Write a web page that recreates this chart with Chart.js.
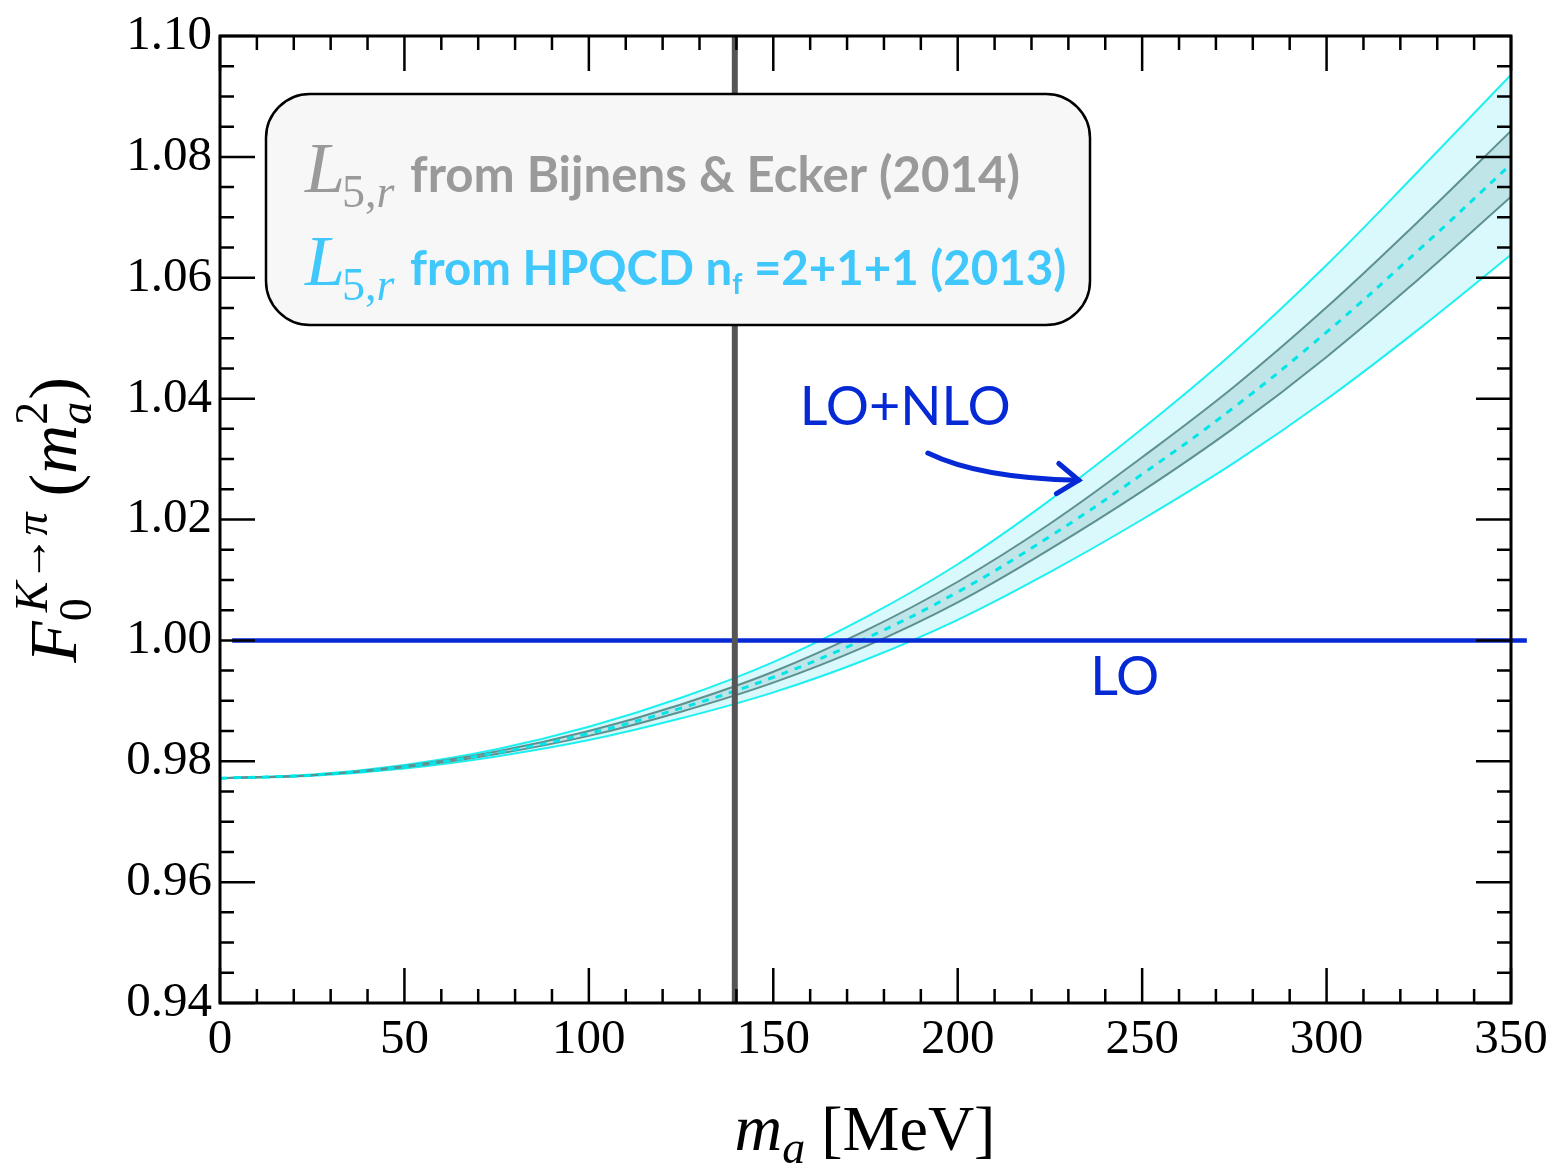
<!DOCTYPE html>
<html>
<head>
<meta charset="utf-8">
<script src="https://cdn.jsdelivr.net/npm/chart.js@4.4.1/dist/chart.umd.min.js"></script>
<style>
  html, body { margin: 0; padding: 0; background: #fff; }
</style>
</head>
<body>
<canvas id="formFactorChart" width="1552" height="1166"></canvas>
<script>
// axion mass grid [MeV]
const massMeV = [0, 25, 50, 75, 100, 125, 150, 175, 200, 225, 250, 275, 300, 325, 350];

// F0 (K -> pi) at LO+NLO, central curve
const centralValues = [0.9772, 0.9777, 0.9791, 0.9814, 0.9846, 0.9888, 0.9939, 1.0003, 1.0080, 1.0172, 1.0275, 1.0386, 1.0510, 1.0646, 1.0788];
// L5 from Bijnens & Ecker (2014): narrow band
const innerUpper = [0.9772, 0.9777, 0.9792, 0.9816, 0.9850, 0.9894, 0.9948, 1.0016, 1.0097, 1.0193, 1.0303, 1.0420, 1.0551, 1.0694, 1.0843];
const innerLower = [0.9772, 0.9777, 0.9790, 0.9812, 0.9842, 0.9882, 0.9930, 0.9990, 1.0063, 1.0151, 1.0247, 1.0352, 1.0469, 1.0598, 1.0734];
// L5 from HPQCD nf=2+1+1 (2013): wide band
const outerUpper = [0.9772, 0.9778, 0.9794, 0.9820, 0.9857, 0.9905, 0.9964, 1.0038, 1.0126, 1.0232, 1.0350, 1.0478, 1.0621, 1.0777, 1.0936];
const outerLower = [0.9772, 0.9776, 0.9788, 0.9808, 0.9835, 0.9871, 0.9914, 0.9968, 1.0034, 1.0113, 1.0200, 1.0294, 1.0399, 1.0515, 1.0638];

// LO value and its drawn extent, pion mass marker
const loValue = 1.0;
const loRange = [3.3, 354.3];
const pionMass = 139.57;

// axis ticks
const xTickValues = [0, 50, 100, 150, 200, 250, 300, 350];
const yTickValues = [0.94, 0.96, 0.98, 1.00, 1.02, 1.04, 1.06, 1.08, 1.10];

const toPoints = (xs, ys) => xs.map((x, i) => ({ x: x, y: ys[i] }));

const SERIF = '"Liberation Serif", "DejaVu Serif", serif';
const SANS = 'Lato, "Open Sans", sans-serif';
const BLUE = '#0629d6';
const GRAY_TXT = '#9a9a9a';
const SKY_TXT = '#40c8fc';

// draws a run of text pieces (with sub/superscripts) from left to right
function drawRich(ctx, parts, x0, y0, dryRun) {
  let x = x0;
  for (const p of parts) {
    if (p.gap) { x += p.gap; continue; }
    if (p.stack) {
      let w = 0;
      for (const q of p.stack) {
        ctx.font = q.font;
        if (!dryRun) ctx.fillText(q.text, x + (q.dx || 0), y0 + (q.dy || 0));
        w = Math.max(w, ctx.measureText(q.text).width + (q.dx || 0));
      }
      x += w;
    } else {
      ctx.font = p.font;
      if (!dryRun) ctx.fillText(p.text, x, y0 + (p.dy || 0));
      x += ctx.measureText(p.text).width;
    }
  }
  return x - x0;
}

// font size that makes a bold sans string span the given width
function fitSans(ctx, text, width) {
  ctx.font = 'bold 48px ' + SANS;
  return 48 * width / ctx.measureText(text).width;
}

function drawLegendBox(ctx) {
  const bx = 266, by = 94, bw = 824, bh = 231, r = 44;
  ctx.save();
  ctx.beginPath();
  ctx.roundRect(bx, by, bw, bh, r);
  ctx.fillStyle = '#f7f7f7';
  ctx.fill();
  ctx.lineWidth = 2.5;
  ctx.strokeStyle = '#000';
  ctx.stroke();

  ctx.textBaseline = 'alphabetic';
  ctx.textAlign = 'left';

  const lRun = [
    { text: 'L', font: 'italic 72px ' + SERIF },
    { gap: -3 },
    { text: '5,', font: '46px ' + SERIF, dy: 15 },
    { text: 'r', font: 'italic 46px ' + SERIF, dy: 15 }
  ];

  const line1 = 'from Bijnens & Ecker (2014)';
  const s1 = fitSans(ctx, line1, 610);
  ctx.fillStyle = GRAY_TXT;
  drawRich(ctx, lRun, 305, 192);
  ctx.font = 'bold ' + s1.toFixed(1) + 'px ' + SANS;
  ctx.fillText(line1, 410, 192);

  const s2 = fitSans(ctx, 'from HPQCD n =2+1+1 (2013)', 646);
  const sans2 = 'bold ' + s2.toFixed(1) + 'px ' + SANS;
  const sub2 = 'bold ' + (s2 * 0.6).toFixed(1) + 'px ' + SANS;
  ctx.fillStyle = SKY_TXT;
  drawRich(ctx, lRun, 305, 285);
  drawRich(ctx, [
    { text: 'from HPQCD n', font: sans2 },
    { text: 'f', font: sub2, dy: 9 },
    { text: ' =2+1+1 (2013)', font: sans2 }
  ], 410, 285);
  ctx.restore();
}

function drawNotes(ctx, x, y) {
  ctx.save();
  ctx.fillStyle = BLUE;
  ctx.strokeStyle = BLUE;
  ctx.font = '54px ' + SANS;
  ctx.textBaseline = 'alphabetic';
  ctx.textAlign = 'left';
  ctx.fillText('LO+NLO', x.getPixelForValue(157.2), y.getPixelForValue(1.0356));
  ctx.fillText('LO', x.getPixelForValue(235.9), y.getPixelForValue(0.9910));

  // curved arrow pointing at the band
  const p0 = [x.getPixelForValue(191.9), y.getPixelForValue(1.0310)];
  const p1 = [x.getPixelForValue(206.0), y.getPixelForValue(1.0268)];
  const p2 = [x.getPixelForValue(232.8), y.getPixelForValue(1.0265)];
  ctx.lineWidth = 5;
  ctx.lineCap = 'round';
  ctx.beginPath();
  ctx.moveTo(p0[0], p0[1]);
  ctx.quadraticCurveTo(p1[0], p1[1], p2[0], p2[1]);
  ctx.stroke();
  const ang = Math.atan2(p2[1] - p1[1], p2[0] - p1[0]) + 0.06;
  const len = 26, spread = 0.62;
  ctx.beginPath();
  ctx.moveTo(p2[0] - len * Math.cos(ang - spread), p2[1] - len * Math.sin(ang - spread));
  ctx.lineTo(p2[0], p2[1]);
  ctx.lineTo(p2[0] - len * Math.cos(ang + spread), p2[1] - len * Math.sin(ang + spread));
  ctx.lineJoin = 'miter';
  ctx.stroke();
  ctx.restore();
}

// frame with inward ticks on all four sides
function drawFrame(ctx, a, x, y) {
  ctx.save();
  ctx.strokeStyle = '#000';
  ctx.lineWidth = 2.5;
  ctx.beginPath();
  for (let i = 0; i <= 35; i++) {
    const px = x.getPixelForValue(i * 10);
    const len = i % 5 === 0 ? 35 : 14;
    ctx.moveTo(px, a.bottom); ctx.lineTo(px, a.bottom - len);
    ctx.moveTo(px, a.top); ctx.lineTo(px, a.top + len);
  }
  for (let i = 0; i <= 32; i++) {
    const py = y.getPixelForValue(0.94 + i * 0.005);
    const len = i % 4 === 0 ? 35 : 14;
    ctx.moveTo(a.left, py); ctx.lineTo(a.left + len, py);
    ctx.moveTo(a.right, py); ctx.lineTo(a.right - len, py);
  }
  ctx.stroke();
  ctx.lineWidth = 3;
  ctx.strokeRect(a.left, a.top, a.right - a.left, a.bottom - a.top);
  ctx.restore();
}

function drawAxisTitles(ctx) {
  ctx.save();
  ctx.fillStyle = '#000';
  ctx.textBaseline = 'alphabetic';
  ctx.textAlign = 'left';

  // x title: m_a [MeV]
  const xParts = [
    { text: 'm', font: 'italic 66px ' + SERIF },
    { text: 'a', font: 'italic 46px ' + SERIF, dy: 13 },
    { gap: 16 },
    { text: '[MeV]', font: '64px ' + SERIF }
  ];
  const xw = drawRich(ctx, xParts, 0, 0, true);
  drawRich(ctx, xParts, 865 - xw / 2, 1150);

  // y title: F_0^{K->pi}(m_a^2), rotated
  const yParts = [
    { text: 'F', font: 'italic 68px ' + SERIF },
    { stack: [
      { text: '0', font: '46px ' + SERIF, dy: 15 },
      { text: 'K\u2192\u03C0', font: 'italic 46px ' + SERIF, dy: -29, dx: 9 }
    ] },
    { gap: 16 },
    { text: '(', font: '68px ' + SERIF },
    { text: 'm', font: 'italic 68px ' + SERIF },
    { stack: [
      { text: 'a', font: 'italic 46px ' + SERIF, dy: 15 },
      { text: '2', font: '46px ' + SERIF, dy: -29 }
    ] },
    { gap: 2 },
    { text: ')', font: '68px ' + SERIF }
  ];
  const yw = drawRich(ctx, yParts, 0, 0, true);
  ctx.translate(76, 520);
  ctx.rotate(-Math.PI / 2);
  drawRich(ctx, yParts, -yw / 2, 0);
  ctx.restore();
}

const plotDecor = {
  id: 'plotDecor',
  beforeDraw(chart) {
    const ctx = chart.ctx;
    ctx.save();
    ctx.fillStyle = '#fff';
    ctx.fillRect(0, 0, chart.width, chart.height);
    ctx.restore();
  },
  afterDatasetsDraw(chart) {
    const { ctx, chartArea, scales } = chart;
    drawNotes(ctx, scales.x, scales.y);
    drawLegendBox(ctx);
    drawFrame(ctx, chartArea, scales.x, scales.y);
  },
  afterDraw(chart) {
    drawAxisTitles(chart.ctx);
  }
};

const curve = {
  pointRadius: 0,
  tension: 0.4,
  borderCapStyle: 'butt'
};

new Chart(document.getElementById('formFactorChart'), {
  type: 'line',
  data: {
    datasets: [
      Object.assign({ data: toPoints(massMeV, outerLower), borderColor: '#1ef0f0', borderWidth: 2, fill: false, order: 10 }, curve),
      Object.assign({ data: toPoints(massMeV, outerUpper), borderColor: '#1ef0f0', borderWidth: 2, fill: '-1', backgroundColor: '#d9f9fc', order: 10 }, curve),
      Object.assign({ data: toPoints(massMeV, innerLower), borderColor: '#5e9090', borderWidth: 2, fill: false, order: 8 }, curve),
      Object.assign({ data: toPoints(massMeV, innerUpper), borderColor: '#5e9090', borderWidth: 2, fill: '-1', backgroundColor: '#bfe5e9', order: 8 }, curve),
      Object.assign({ data: toPoints(massMeV, centralValues), borderColor: '#00e6e8', borderWidth: 3, borderDash: [7, 7], fill: false, order: 6 }, curve),
      { data: [{ x: loRange[0], y: loValue }, { x: loRange[1], y: loValue }], borderColor: BLUE, borderWidth: 4.5, pointRadius: 0, fill: false, clip: false, order: 4 },
      { data: [{ x: pionMass, y: 0.94 }, { x: pionMass, y: 1.10 }], borderColor: '#555555', borderWidth: 6, pointRadius: 0, fill: false, order: 2 }
    ]
  },
  options: {
    responsive: false,
    animation: false,
    devicePixelRatio: 1,
    layout: { padding: { top: 36, right: 41, left: 0, bottom: 0 } },
    plugins: {
      legend: { display: false },
      tooltip: { enabled: false },
      filler: { drawTime: 'beforeDatasetDraw' }
    },
    scales: {
      x: {
        type: 'linear',
        min: 0,
        max: 350,
        afterBuildTicks: s => { s.ticks = xTickValues.map(v => ({ value: v })); },
        afterFit: s => { s.height = 163; s.paddingLeft = 0; s.paddingRight = 0; },
        grid: { display: false, drawTicks: false },
        border: { display: false },
        ticks: {
          autoSkip: false,
          maxRotation: 0,
          padding: 8,
          color: '#000',
          font: { family: SERIF, size: 49 },
          callback: v => String(v)
        }
      },
      y: {
        type: 'linear',
        min: 0.94,
        max: 1.10,
        afterBuildTicks: s => { s.ticks = yTickValues.map(v => ({ value: v })); },
        afterFit: s => { s.width = 220; s.paddingTop = 0; s.paddingBottom = 0; },
        grid: { display: false, drawTicks: false },
        border: { display: false },
        ticks: {
          autoSkip: false,
          padding: 8,
          color: '#000',
          font: { family: SERIF, size: 49 },
          callback: v => v.toFixed(2)
        }
      }
    }
  },
  plugins: [plotDecor]
});
</script>
</body>
</html>
